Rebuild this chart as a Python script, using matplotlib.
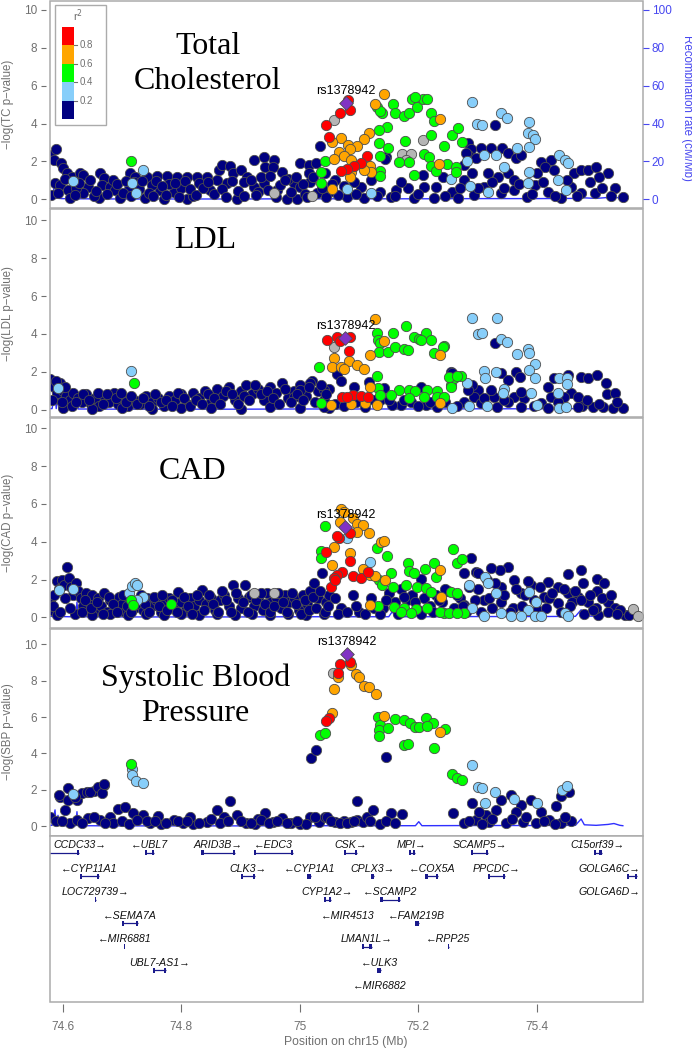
import matplotlib
matplotlib.use("Agg")
import matplotlib.pyplot as plt
from matplotlib.patches import Rectangle

plt.rcParams['font.family'] = ['Liberation Sans', 'DejaVu Sans']

# ---------------------------------------------------------------- data
LEAD_SNP = 'rs1378942'
TRAITS = ['TC', 'LDL', 'CAD', 'SBP']
TITLES = ['Total\nCholesterol', 'LDL', 'CAD', 'Systolic Blood\nPressure']

# lead SNP (position Mb, -log10 p) per trait
lead = [(75.078, 5.06), (75.077, 3.77), (75.077, 4.79), (75.079, 9.47)]

# recombination rate (cM/Mb)
recomb_pos = [74.5785, 74.582, 74.587, 74.589, 74.592, 74.594, 74.598, 74.610, 74.622,
              74.624, 74.626, 74.70, 74.80, 74.90, 75.00, 75.10, 75.150, 75.156, 75.161,
              75.195, 75.2007, 75.206, 75.30, 75.40, 75.465, 75.4746, 75.480, 75.50,
              75.52, 75.53, 75.540, 75.545]
recomb_rate = [0.5, 0.5, 9.0, 0.5, 6.0, 0.5, 0.4, 0.3, 0.3, 8.0, 0.3, 0.2, 0.2, 0.2,
               0.3, 0.3, 0.3, 3.0, 0.3, 0.3, 2.5, 0.3, 0.4, 0.4, 0.5, 4.0, 0.8, 0.5,
               1.0, 1.5, 0.5, 0.3]

# ---- Total cholesterol
tc_navy = [(74.5785, 2.34), (74.589, 2.65), (74.586, 2.07), (74.597, 1.90), (74.601, 1.63),
           (74.607, 1.37), (74.615, 1.19), (74.629, 1.37), (74.635, 1.28), (74.587, 0.84),
           (74.595, 0.75), (74.609, 0.49), (74.612, 0.05), (74.581, 0.23), (74.643, 0.66),
           (74.663, 1.37), (74.669, 1.11), (74.666, 0.75), (74.662, 0.05), (74.680, 0.66),
           (74.688, 0.49), (74.697, 0.05), (74.714, 1.37), (74.711, 0.53), (74.702, 0.32),
           (74.722, 1.19), (74.742, 1.19), (74.759, 1.23), (74.776, 1.23), (74.793, 1.16),
           (74.810, 1.16), (74.827, 1.19), (74.843, 1.19), (74.764, 0.49), (74.787, 0.40),
           (74.770, 0.0), (74.739, 0.05), (74.810, 0.0), (74.849, 0.49), (74.863, 1.55),
           (74.869, 1.81), (74.883, 1.76), (74.860, 1.02), (74.877, 0.84), (74.888, 1.37),
           (74.900, 1.55), (74.911, 1.19), (74.922, 2.07), (74.939, 2.25), (74.942, 1.72),
           (74.956, 2.07), (74.955, 1.72), (74.970, 1.46), (74.894, 0.0), (74.922, 0.66),
           (74.939, 0.84), (74.962, 0.49), (74.967, 0.75), (74.979, 0.0), (74.990, 0.84),
           (75.001, 1.90), (75.015, 1.81), (75.027, 1.90), (75.034, 2.83), (75.018, 0.93),
           (75.001, 0.66), (75.029, 0.32), (74.996, 0.0), (74.635, 0.32), (74.720, 0.90),
           (74.750, 0.75), (74.780, 0.80), (74.800, 0.60), (74.830, 0.85), (74.856, 0.30),
           (74.905, 0.90), (74.930, 0.40), (74.980, 1.10), (75.008, 0.30), (74.745, 0.35),
           (74.820, 0.20), (74.622, 0.60), (74.652, 0.20), (75.283, 2.95), (75.330, 3.92),
           (75.289, 2.64), (75.283, 2.34), (75.297, 2.16), (75.305, 2.72), (75.322, 2.69),
           (75.341, 2.72), (75.351, 2.43), (75.365, 2.16), (75.373, 2.34), (75.407, 1.98),
           (75.424, 2.07), (75.413, 1.72), (75.401, 1.37), (75.429, 1.55), (75.463, 1.37),
           (75.475, 1.55), (75.486, 1.55), (75.500, 1.72), (75.520, 1.37), (75.531, 0.58),
           (75.545, 0.14), (75.498, 0.32), (75.475, 0.32), (75.458, 0.66), (75.441, 0.05),
           (75.418, 0.40), (75.396, 0.75), (75.384, 0.14), (75.362, 0.49), (75.339, 0.32),
           (75.311, 0.66), (75.294, 0.23), (75.277, 1.02), (75.291, 1.37), (75.317, 1.37),
           (75.334, 1.19), (75.351, 1.37), (75.362, 1.02), (75.145, 2.25), (75.207, 1.28),
           (75.210, 0.66), (75.182, 0.58), (75.162, 0.49), (75.136, 0.40), (75.103, 0.66),
           (75.091, 0.93), (75.230, 0.66), (75.256, 0.40), (75.267, 0.05), (75.227, 0.05),
           (75.193, 0.05), (75.153, 0.14), (75.108, 0.05), (75.080, 0.14), (75.144, 2.12),
           (75.015, 1.37), (75.241, 1.19), (75.277, 1.81), (75.281, 2.43), (75.060, 1.00),
           (75.050, 0.40), (75.120, 1.00), (75.170, 0.90), (75.045, 0.10),
           (74.592, 0.35), (74.604, 1.05), (74.620, 0.25), (74.628, 0.85), (74.646, 1.00),
           (74.656, 0.45), (74.674, 0.30), (74.684, 1.00), (74.692, 0.80), (74.706, 0.95),
           (74.716, 0.20), (74.728, 0.55), (74.734, 0.95), (74.752, 0.20), (74.758, 0.95),
           (74.768, 0.70), (74.775, 0.25), (74.790, 0.85), (74.796, 0.15), (74.806, 0.95),
           (74.814, 0.55), (74.825, 0.25), (74.836, 0.60), (74.845, 0.90), (74.868, 0.55),
           (74.875, 0.15), (74.886, 0.95), (74.896, 0.45), (74.906, 0.20), (74.918, 1.00),
           (74.926, 0.25), (74.935, 1.20), (74.946, 0.50), (74.950, 1.25), (74.960, 0.15),
           (74.975, 1.00), (74.985, 0.40), (74.993, 1.20), (75.005, 0.80), (75.012, 0.15),
           (75.022, 1.20), (75.038, 0.60), (75.042, 1.40), (75.055, 0.80), (75.065, 0.25),
           (75.075, 0.70), (75.095, 0.30), (75.130, 0.20), (75.160, 0.20), (75.200, 0.30),
           (75.245, 0.20), (75.270, 0.60), (75.300, 0.60), (75.325, 0.90), (75.345, 0.60),
           (75.370, 0.80), (75.392, 0.30), (75.410, 0.90), (75.430, 0.20), (75.450, 1.00),
           (75.468, 0.20), (75.490, 0.90), (75.510, 0.60), (75.525, 0.20), (75.505, 1.20)]
tc_gray = [(75.207, 3.13), (75.057, 4.18), (75.173, 2.37), (75.187, 2.37), (74.956, 0.32),
           (75.179, 2.07), (75.020, 0.20)]
tc_lblue = [(75.291, 5.12), (75.339, 4.57), (75.349, 4.27), (75.299, 3.97), (75.308, 3.92),
            (75.386, 4.09), (75.385, 3.51), (75.393, 3.39), (75.397, 3.16), (75.387, 2.77),
            (75.366, 2.72), (75.282, 2.02), (75.311, 2.34), (75.331, 2.34), (75.345, 1.72),
            (75.387, 1.46), (75.385, 0.88), (75.438, 2.34), (75.448, 2.07), (75.452, 1.90),
            (75.255, 1.07), (75.287, 0.70), (75.317, 0.40), (75.120, 0.32), (75.435, 1.02),
            (75.449, 0.49), (74.618, 0.97), (74.717, 0.84), (74.724, 0.35), (74.735, 1.55),
            (75.080, 0.53)]
tc_green = [(74.7155, 2.02), (75.043, 2.02), (75.035, 1.46), (75.036, 0.88), (75.130, 4.85),
            (75.138, 4.54), (75.158, 5.03), (75.161, 4.54), (75.176, 4.41), (75.184, 4.54),
            (75.190, 5.28), (75.198, 4.88), (75.208, 5.30), (75.214, 5.27), (75.221, 4.57),
            (75.226, 4.15), (75.194, 5.41), (75.147, 3.83), (75.134, 3.66), (75.221, 3.39),
            (75.256, 3.39), (75.267, 3.74), (75.244, 2.81), (75.273, 3.04), (75.134, 2.95),
            (75.148, 2.69), (75.136, 2.28), (75.167, 1.98), (75.184, 1.98), (75.209, 2.37),
            (75.218, 2.25), (75.221, 1.76), (75.230, 1.51), (75.249, 1.86), (75.263, 1.72),
            (75.263, 1.46), (75.136, 1.51), (75.136, 1.23), (75.193, 1.28), (75.177, 3.08),
            (75.135, 4.66)]
tc_orange = [(75.142, 5.55), (75.127, 5.03), (75.236, 4.26), (75.117, 3.51), (75.108, 3.21),
             (75.070, 3.23), (75.055, 3.04), (75.081, 2.86), (75.097, 2.84), (75.085, 2.64),
             (75.066, 2.51), (75.074, 2.30), (75.057, 2.11), (75.087, 2.07), (75.118, 1.76),
             (75.120, 1.44), (75.087, 1.46), (75.085, 1.16), (75.054, 0.53), (75.235, 1.85),
             (75.108, 1.54)]
tc_red = [(75.082, 5.24), (75.085, 4.71), (75.067, 4.54), (75.045, 3.90), (75.049, 3.30),
          (75.114, 2.28), (75.103, 1.93), (75.091, 1.77), (75.080, 1.60), (75.069, 1.51)]

# ---- LDL
ldl_navy = [(74.579, 1.60), (74.585, 1.20), (74.590, 0.90), (74.595, 1.40), (74.600, 1.00),
            (74.606, 0.70), (74.612, 0.50), (74.618, 0.90), (74.625, 0.60), (74.632, 0.40),
            (74.640, 0.80), (74.648, 0.30), (74.655, 0.60), (74.662, 0.20), (74.670, 0.70),
            (74.678, 0.40), (74.686, 0.90), (74.694, 0.30), (74.702, 0.60), (74.710, 0.20),
            (74.720, 0.50), (74.730, 0.30), (74.740, 0.70), (74.750, 0.40), (74.760, 0.60),
            (74.770, 0.20), (74.780, 0.70), (74.790, 0.50), (74.800, 0.80), (74.810, 0.30),
            (74.820, 0.90), (74.830, 0.60), (74.840, 1.00), (74.850, 0.40), (74.860, 1.10),
            (74.870, 0.70), (74.880, 1.20), (74.890, 0.50), (74.900, 1.00), (74.910, 1.30),
            (74.920, 0.80), (74.930, 1.10), (74.940, 0.50), (74.950, 1.20), (74.960, 0.90),
            (74.970, 1.40), (74.980, 0.60), (74.990, 1.00), (75.000, 1.30), (75.010, 0.70),
            (75.020, 1.50), (75.030, 1.00), (75.040, 0.50), (75.050, 1.10), (74.600, 0.10),
            (74.650, 0.05), (74.700, 0.10), (74.750, 0.05), (74.800, 0.10), (74.850, 0.10),
            (74.900, 0.05), (74.950, 0.15), (75.000, 0.10), (75.050, 0.10), (75.063, 1.88),
            (75.069, 1.51), (75.091, 1.21), (75.117, 1.47), (75.142, 1.12), (75.170, 0.24),
            (75.187, 0.41), (75.213, 0.24), (75.204, 1.17), (75.156, 0.24), (75.018, 1.39),
            (75.001, 1.03), (74.990, 0.68), (75.041, 1.03), (75.041, 0.15), (75.255, 2.00),
            (75.256, 1.74), (75.329, 3.53), (75.256, 1.92), (75.339, 1.92), (75.365, 2.00),
            (75.372, 1.74), (75.351, 1.56), (75.429, 1.65), (75.452, 1.83), (75.475, 1.74),
            (75.486, 1.65), (75.501, 1.83), (75.517, 1.42), (75.519, 0.82), (75.531, 0.86),
            (75.545, 0.06), (75.528, 0.06), (75.511, 0.12), (75.494, 0.15), (75.476, 0.19),
            (75.458, 0.86), (75.469, 0.68), (75.446, 0.68), (75.418, 1.21), (75.424, 0.68),
            (75.407, 0.33), (75.379, 0.59), (75.362, 0.68), (75.373, 0.94), (75.351, 0.41),
            (75.328, 0.68), (75.322, 1.03), (75.300, 1.03), (75.294, 0.68), (75.291, 1.30),
            (75.283, 1.03), (75.277, 0.41), (75.305, 0.33), (75.333, 0.15), (75.373, 0.15),
            (75.418, 0.06), (75.469, 0.15), (75.232, 0.15), (75.110, 0.15), (75.135, 0.50),
            (74.582, 0.50), (74.588, 1.50), (74.598, 0.40), (74.604, 1.20), (74.615, 0.20),
            (74.622, 0.40), (74.635, 0.80), (74.645, 0.50), (74.660, 0.90), (74.668, 0.30),
            (74.675, 0.80), (74.690, 0.60), (74.698, 0.90), (74.706, 0.40), (74.715, 0.70),
            (74.725, 0.30), (74.735, 0.60), (74.745, 0.20), (74.755, 0.80), (74.765, 0.40),
            (74.775, 0.50), (74.785, 0.20), (74.795, 0.90), (74.805, 0.60), (74.815, 0.20),
            (74.825, 0.50), (74.835, 0.30), (74.845, 0.80), (74.855, 0.60), (74.865, 0.30),
            (74.875, 1.00), (74.885, 0.80), (74.895, 0.30), (74.905, 0.70), (74.915, 0.50),
            (74.925, 1.30), (74.935, 0.80), (74.945, 1.00), (74.955, 0.60), (74.965, 0.30),
            (74.975, 1.10), (74.985, 0.40), (74.995, 0.80), (75.005, 0.50), (75.015, 1.20),
            (75.025, 0.40), (75.035, 1.30), (75.045, 0.80), (75.060, 0.30), (75.075, 0.20),
            (75.095, 0.40), (75.125, 0.50), (75.150, 0.50), (75.175, 0.50), (75.200, 0.20),
            (75.220, 0.40), (75.245, 0.40), (75.265, 0.20), (75.310, 0.60), (75.345, 0.50),
            (75.395, 0.20), (75.435, 0.40), (75.485, 0.50), (75.505, 0.30), (75.535, 0.40)]
ldl_gray = [(75.058, 3.29)]
ldl_lblue = [(75.290, 4.83), (75.332, 4.83), (75.300, 4.00), (75.308, 4.03), (75.339, 3.71),
             (75.349, 3.59), (75.366, 2.94), (75.385, 3.20), (75.387, 2.97), (75.397, 2.41),
             (75.387, 2.09), (75.311, 2.05), (75.331, 2.00), (75.313, 1.68), (75.282, 1.42),
             (75.396, 1.65), (75.345, 1.07), (75.342, 0.86), (75.390, 0.89), (75.438, 1.65),
             (75.451, 1.65), (75.451, 1.35), (75.436, 0.89), (75.286, 0.19), (75.316, 0.19),
             (75.256, 0.06), (75.400, 0.24), (75.438, 0.06), (75.449, 0.15), (74.592, 1.13),
             (74.716, 2.04)]
ldl_green = [(75.033, 2.23), (75.130, 4.03), (75.132, 3.68), (75.135, 3.53), (75.134, 3.06),
             (75.148, 3.06), (75.157, 4.03), (75.161, 3.29), (75.176, 3.19), (75.183, 3.15),
             (75.179, 4.42), (75.192, 3.85), (75.201, 3.73), (75.213, 4.03), (75.221, 3.68),
             (75.227, 3.01), (75.244, 3.36), (75.205, 3.68), (75.130, 1.77), (75.132, 1.12),
             (75.136, 0.77), (75.036, 0.36), (75.168, 1.03), (75.184, 1.03), (75.195, 0.99),
             (75.215, 1.03), (75.232, 0.99), (75.232, 0.68), (75.255, 1.30), (75.260, 1.65),
             (75.272, 1.77), (75.153, 0.77), (75.184, 0.59), (75.210, 0.68), (75.242, 3.32),
             (75.252, 1.74), (75.266, 1.77), (75.255, 1.21), (75.244, 0.68), (74.721, 1.40)]
ldl_orange = [(75.127, 4.77), (75.142, 3.64), (75.058, 2.71), (75.083, 2.58), (75.097, 2.35),
              (75.108, 2.13), (75.055, 2.23), (75.069, 2.26), (75.074, 2.13), (75.118, 2.88),
              (75.118, 1.17), (75.053, 0.24), (75.087, 0.29), (75.110, 0.33), (75.131, 0.24),
              (75.236, 2.88), (75.236, 0.33)]
ldl_red = [(75.046, 3.68), (75.063, 3.85), (75.068, 3.64), (75.085, 3.82), (75.083, 3.11),
           (75.072, 0.68), (75.090, 0.77), (75.103, 0.73), (75.115, 0.68), (75.080, 0.65)]

# ---- CAD
cad_navy = [(74.579, 0.90), (74.582, 0.40), (74.586, 1.20), (74.590, 1.90), (74.594, 1.50),
            (74.598, 2.00), (74.602, 1.70), (74.607, 2.68), (74.610, 2.10), (74.614, 1.60),
            (74.618, 1.20), (74.622, 1.83), (74.626, 1.40), (74.630, 1.00), (74.635, 0.60),
            (74.640, 1.30), (74.645, 0.80), (74.650, 1.20), (74.655, 0.40), (74.660, 1.00),
            (74.665, 0.60), (74.670, 1.30), (74.675, 0.30), (74.680, 0.90), (74.688, 0.50),
            (74.695, 1.10), (74.700, 0.70), (74.705, 0.30), (74.712, 1.00), (74.720, 0.50),
            (74.728, 0.90), (74.735, 0.40), (74.742, 1.00), (74.750, 0.60), (74.758, 0.90),
            (74.765, 0.30), (74.772, 0.80), (74.780, 1.00), (74.788, 0.50), (74.795, 1.35),
            (74.800, 0.80), (74.808, 0.40), (74.815, 1.00), (74.822, 0.60), (74.830, 0.90),
            (74.835, 1.44), (74.842, 0.70), (74.850, 1.00), (74.857, 0.40), (74.865, 0.90),
            (74.872, 1.20), (74.880, 0.60), (74.888, 1.71), (74.895, 1.00), (74.900, 0.50),
            (74.908, 1.71), (74.915, 1.10), (74.922, 0.60), (74.930, 1.00), (74.938, 0.40),
            (74.945, 1.30), (74.952, 0.80), (74.960, 1.10), (74.968, 0.50), (74.975, 1.20),
            (74.982, 0.80), (74.990, 1.00), (74.998, 0.40), (75.005, 1.20), (75.012, 0.70),
            (75.018, 1.40), (75.024, 1.83), (75.030, 1.00), (75.038, 2.36), (75.045, 0.80),
            (75.050, 1.20), (74.590, 0.10), (74.620, 0.20), (74.650, 0.10), (74.680, 0.15),
            (74.710, 0.10), (74.740, 0.20), (74.770, 0.10), (74.800, 0.15), (74.830, 0.10),
            (74.860, 0.20), (74.890, 0.10), (74.920, 0.15), (74.950, 0.10), (74.980, 0.20),
            (75.010, 0.10), (75.040, 0.15), (75.060, 1.00), (75.070, 0.50), (75.090, 1.20),
            (75.100, 0.30), (75.120, 1.00), (75.140, 0.50), (75.150, 1.30), (75.160, 0.80),
            (75.170, 1.50), (75.180, 0.90), (75.190, 1.20), (75.200, 0.40), (75.210, 1.00),
            (75.220, 0.60), (75.230, 1.20), (75.240, 0.80), (75.250, 1.40), (75.260, 0.50),
            (75.270, 1.00), (75.280, 0.30), (75.204, 2.01), (75.297, 2.41), (75.289, 3.12),
            (75.452, 2.28), (75.475, 2.50), (75.478, 1.80), (75.501, 2.01), (75.513, 1.80),
            (75.502, 1.41), (75.418, 1.88), (75.435, 1.62), (75.452, 1.27), (75.469, 1.09),
            (75.486, 0.83), (75.520, 0.83), (75.531, 0.48), (75.548, 0.12), (75.503, 0.12),
            (75.390, 1.71), (75.362, 1.97), (75.351, 2.68), (75.337, 2.50), (75.322, 2.59),
            (75.300, 2.33), (75.277, 2.33), (75.373, 1.27), (75.412, 1.09), (75.435, 0.74),
            (75.339, 0.83), (75.311, 0.92), (75.277, 0.65), (75.300, 1.50), (75.320, 1.00),
            (75.340, 1.60), (75.360, 0.50), (75.380, 1.20), (75.400, 0.40), (75.420, 1.00),
            (75.440, 0.30), (75.460, 0.80), (75.480, 0.20), (75.500, 0.50), (75.520, 0.30),
            (75.540, 0.40), (75.555, 0.10),
            (74.584, 0.60), (74.596, 0.30), (74.604, 1.00), (74.612, 0.50), (74.632, 0.30),
            (74.638, 0.90), (74.648, 0.50), (74.658, 0.80), (74.668, 0.20), (74.678, 1.10),
            (74.685, 0.70), (74.692, 0.30), (74.702, 1.20), (74.708, 0.60), (74.716, 0.30),
            (74.724, 0.70), (74.732, 1.20), (74.738, 0.70), (74.746, 0.30), (74.754, 1.10),
            (74.762, 0.60), (74.768, 1.20), (74.776, 0.40), (74.784, 0.90), (74.792, 0.30),
            (74.804, 1.10), (74.812, 0.60), (74.818, 0.20), (74.826, 1.20), (74.838, 0.40),
            (74.846, 1.20), (74.854, 0.70), (74.862, 0.30), (74.868, 1.40), (74.876, 0.90),
            (74.884, 0.30), (74.892, 1.30), (74.904, 0.80), (74.912, 0.30), (74.918, 1.20),
            (74.926, 0.90), (74.934, 1.30), (74.942, 0.70), (74.950, 0.30), (74.956, 0.60),
            (74.964, 1.30), (74.972, 0.80), (74.978, 0.30), (74.986, 1.30), (74.994, 0.70),
            (75.002, 0.20), (75.008, 0.90), (75.016, 0.40), (75.022, 1.10), (75.028, 0.50),
            (75.034, 1.40), (75.042, 0.30), (75.048, 0.60), (75.065, 0.20), (75.080, 0.30),
            (75.095, 0.60), (75.110, 0.20), (75.125, 0.50), (75.135, 0.20), (75.145, 0.90),
            (75.165, 0.20), (75.175, 1.10), (75.195, 0.80), (75.205, 0.20), (75.225, 0.30),
            (75.235, 0.90), (75.245, 1.50), (75.265, 1.20), (75.275, 0.60), (75.285, 1.60),
            (75.295, 0.90), (75.305, 0.30), (75.315, 2.00), (75.325, 0.50), (75.330, 1.80),
            (75.345, 1.20), (75.355, 0.30), (75.365, 1.50), (75.375, 0.60), (75.385, 1.90),
            (75.395, 0.90), (75.405, 1.60), (75.415, 0.50), (75.425, 1.30), (75.445, 1.50),
            (75.455, 0.60), (75.465, 1.40), (75.475, 0.90), (75.490, 1.20), (75.495, 0.40),
            (75.510, 1.00), (75.525, 1.20), (75.535, 0.20)]
cad_gray = [(74.956, 1.27), (74.922, 1.30), (75.562, 0.44), (75.570, 0.07)]
cad_lblue = [(75.118, 2.94), (75.080, 4.21), (75.286, 1.71), (75.313, 2.15), (75.317, 1.80),
             (75.331, 1.27), (75.387, 1.35), (75.399, 0.83), (75.385, 0.39), (75.291, 0.48),
             (75.311, 0.07), (75.339, 0.21), (75.356, 0.07), (75.373, 0.07), (75.396, 0.07),
             (75.407, 0.07), (75.448, 0.21), (75.452, 0.07), (74.593, 1.44), (74.618, 1.48),
             (74.711, 1.30), (74.717, 1.66), (74.722, 1.83), (74.725, 1.71), (74.735, 1.09),
             (74.726, 0.92)]
cad_green = [(75.043, 4.83), (75.035, 3.51), (75.036, 3.12), (75.130, 3.65), (75.147, 3.26),
             (75.258, 3.60), (75.266, 2.89), (75.273, 3.08), (75.153, 2.33), (75.134, 1.97),
             (75.138, 1.71), (75.158, 1.59), (75.182, 2.86), (75.184, 2.45), (75.193, 2.33),
             (75.211, 2.56), (75.227, 2.86), (75.179, 1.71), (75.198, 1.62), (75.213, 1.53),
             (75.255, 1.35), (75.266, 1.27), (75.132, 0.60), (75.159, 0.53), (75.176, 0.48),
             (75.196, 0.42), (75.215, 0.48), (75.244, 0.21), (75.277, 0.21), (75.170, 0.30),
             (75.187, 0.21), (75.230, 2.15), (75.221, 1.35), (75.237, 0.30), (75.251, 0.24),
             (75.266, 0.24), (74.715, 0.92), (74.719, 0.65), (74.783, 0.70)]
cad_orange = [(75.070, 5.73), (75.074, 5.59), (75.068, 5.06), (75.089, 5.24), (75.097, 4.92),
              (75.106, 4.88), (75.096, 4.53), (75.117, 4.48), (75.137, 4.00), (75.142, 4.04),
              (75.058, 3.70), (75.085, 3.39), (75.055, 2.77), (75.107, 2.56), (75.118, 2.24),
              (75.127, 2.19), (75.144, 1.97), (75.118, 0.65), (75.236, 2.50), (75.239, 1.06)]
cad_red = [(75.066, 4.18), (75.063, 4.30), (75.085, 4.44), (75.045, 3.47), (75.085, 2.99),
           (75.072, 2.41), (75.063, 2.24), (75.058, 2.06), (75.089, 2.19), (75.104, 2.06),
           (75.115, 2.41), (75.052, 1.62), (75.059, 1.97)]

# ---- SBP
sbp_navy = [(74.596, 1.63), (74.609, 2.12), (74.624, 1.45), (74.632, 1.81), (74.641, 1.90),
            (74.652, 1.96), (74.663, 2.09), (74.669, 2.27), (74.593, 1.72), (74.609, 1.45),
            (74.621, 1.63), (74.646, 1.90), (74.660, 2.18), (74.666, 1.81), (74.670, 2.32),
            (74.604, 0.90), (74.579, 0.53), (74.588, 0.29), (74.612, 0.18), (74.624, 0.35),
            (74.643, 0.45), (74.663, 0.35), (74.680, 0.53), (74.694, 0.93), (74.705, 1.04),
            (74.718, 0.71), (74.736, 0.62), (74.748, 0.18), (74.765, 0.13), (74.787, 0.35),
            (74.803, 0.18), (74.820, 0.13), (74.843, 0.25), (74.860, 0.90), (74.883, 1.39),
            (74.872, 0.53), (74.894, 0.62), (74.910, 0.18), (74.925, 0.13), (74.942, 0.71),
            (74.954, 0.24), (74.970, 0.44), (75.001, 0.13), (75.018, 0.53), (75.032, 0.24),
            (75.043, 0.53), (75.046, 0.49), (75.060, 0.24), (75.074, 0.31), (75.086, 0.24),
            (75.097, 0.35), (75.106, 0.24), (75.114, 0.49), (75.124, 0.90), (75.135, 0.11),
            (75.153, 0.75), (75.173, 0.66), (75.097, 1.41), (75.019, 3.74), (75.028, 4.19),
            (75.145, 3.82), (75.259, 0.75), (75.291, 1.26), (75.277, 0.16), (75.297, 0.35),
            (75.314, 0.62), (75.331, 0.90), (75.339, 1.45), (75.356, 1.72), (75.373, 1.17),
            (75.390, 1.45), (75.407, 0.79), (75.421, 0.35), (75.432, 1.12), (75.441, 1.67),
            (75.454, 1.88), (75.319, 0.24), (75.348, 0.18), (75.376, 0.24), (75.398, 0.18),
            (75.441, 0.18), (75.458, 0.29), (75.302, 0.79), (75.365, 0.79), (74.685, 0.20),
            (74.760, 0.55), (74.815, 0.50), (74.930, 0.40), (74.985, 0.20), (75.010, 0.10),
            (74.598, 0.30), (74.632, 0.20), (74.652, 0.50), (74.672, 0.20), (74.700, 0.30),
            (74.712, 0.15), (74.725, 0.35), (74.742, 0.30), (74.756, 0.30), (74.775, 0.20),
            (74.795, 0.30), (74.810, 0.30), (74.830, 0.20), (74.850, 0.40), (74.866, 0.20),
            (74.878, 0.30), (74.900, 0.30), (74.918, 0.20), (74.935, 0.35), (74.948, 0.20),
            (74.962, 0.30), (74.978, 0.20), (74.995, 0.30), (75.025, 0.50), (75.052, 0.30),
            (75.068, 0.20), (75.080, 0.20), (75.092, 0.30), (75.119, 0.30), (75.145, 0.30),
            (75.160, 0.20), (75.285, 0.30), (75.308, 0.10), (75.325, 0.40), (75.358, 0.40),
            (75.382, 0.50), (75.412, 0.30), (75.430, 0.10), (75.448, 0.50)]
sbp_gray = [(75.056, 8.41)]
sbp_lblue = [(75.291, 3.37), (75.300, 2.18), (75.308, 2.09), (75.313, 1.26), (75.330, 1.90),
             (75.362, 1.50), (75.400, 1.30), (75.443, 2.00), (75.450, 2.20), (74.618, 1.77),
             (74.717, 3.15), (74.717, 2.82), (74.724, 2.49), (74.735, 2.36)]
sbp_green = [(75.034, 5.02), (75.042, 5.11), (75.132, 5.99), (75.135, 5.57), (75.134, 5.29),
             (75.134, 4.96), (75.149, 5.38), (75.160, 5.88), (75.175, 5.84), (75.186, 5.66),
             (75.194, 5.47), (75.201, 5.44), (75.213, 5.93), (75.224, 5.69), (75.214, 5.51),
             (75.245, 5.33), (75.176, 4.47), (75.183, 4.52), (75.227, 4.29), (75.256, 2.87),
             (75.266, 2.64), (75.273, 2.54), (74.715, 3.41)]
sbp_orange = [(75.087, 8.86), (75.094, 8.35), (75.099, 8.22), (75.065, 8.22), (75.057, 7.53),
              (75.108, 7.71), (75.117, 7.64), (75.128, 7.27), (75.055, 6.21), (75.142, 6.06),
              (75.236, 5.16)]
sbp_red = [(75.068, 8.92), (75.085, 9.04), (75.064, 8.44), (75.049, 5.93), (75.045, 5.80)]

# ---- genes: name, start, end, strand, row
gene_name = ['CCDC33', 'UBL7', 'ARID3B', 'EDC3', 'CSK', 'MPI', 'SCAMP5', 'C15orf39',
             'CYP11A1', 'CLK3', 'CYP1A1', 'CPLX3', 'COX5A', 'PPCDC', 'GOLGA6C',
             'LOC729739', 'CYP1A2', 'SCAMP2', 'GOLGA6D',
             'SEMA7A', 'MIR4513', 'FAM219B',
             'MIR6881', 'LMAN1L', 'RPP25',
             'UBL7-AS1', 'ULK3', 'MIR6882']
gene_start = [74.560, 74.738, 74.834, 74.923, 75.074, 75.184, 75.289, 75.497,
              74.629, 74.901, 75.0125, 75.1195, 75.212, 75.317, 75.552,
              74.6543, 75.040, 75.136, 75.5785,
              74.700, 75.0808, 75.194,
              74.7034, 75.105, 75.2495,
              74.7527, 75.130, 75.1345]
gene_end = [74.628, 74.754, 74.891, 74.989, 75.097, 75.194, 75.317, 75.509,
            74.661, 74.925, 75.019, 75.1245, 75.233, 75.346, 75.569,
            74.6553, 75.052, 75.169, 75.5900,
            74.727, 75.0815, 75.201,
            74.7040, 75.121, 75.2510,
            74.7747, 75.1376, 75.1350]
gene_strand = ['+', '-', '+', '-', '+', '+', '+', '+',
               '-', '+', '-', '+', '-', '+', '+',
               '+', '+', '-', '+',
               '-', '-', '-',
               '-', '+', '-',
               '+', '-', '-']
gene_row = [0, 0, 0, 0, 0, 0, 0, 0,
            1, 1, 1, 1, 1, 1, 1,
            2, 2, 2, 2,
            3, 3, 3,
            4, 4, 4,
            5, 5, 6]

x_ticks = [74.6, 74.8, 75.0, 75.2, 75.4]
x_tick_labels = ['74.6', '74.8', '75', '75.2', '75.4']

# ---------------------------------------------------------------- style
W, H = 692, 1050
XLIM = (74.5785, 75.579)
FRAME = '#ABABAB'
AXTXT = '#707070'
RBLUE = '#4747F0'
GENE = '#1A1A8C'
EDGE = '#4D4D4D'
C_NAVY, C_LBLUE, C_GREEN = '#000080', '#87CEFA', '#00FF00'
C_ORANGE, C_RED, C_GRAY, C_PURPLE = '#FFA500', '#FF0000', '#B5B5B5', '#8133C4'

panel_px = [(0.5, 207.7), (209.5, 417.5), (418.5, 627.7), (628.5, 835.7)]
panel_ylim = [(-0.44, 10.49), (-0.42, 10.58), (-0.55, 10.52), (-0.52, 10.87)]
title_pos = [(0.266, 0.692), (0.261, 0.853), (0.240, 0.745), (0.245, 0.674)]

snp_sets = [
    [(tc_navy, C_NAVY), (tc_gray, C_GRAY), (tc_lblue, C_LBLUE), (tc_green, C_GREEN),
     (tc_orange, C_ORANGE), (tc_red, C_RED)],
    [(ldl_navy, C_NAVY), (ldl_gray, C_GRAY), (ldl_lblue, C_LBLUE), (ldl_green, C_GREEN),
     (ldl_orange, C_ORANGE), (ldl_red, C_RED)],
    [(cad_navy, C_NAVY), (cad_gray, C_GRAY), (cad_lblue, C_LBLUE), (cad_green, C_GREEN),
     (cad_orange, C_ORANGE), (cad_red, C_RED)],
    [(sbp_navy, C_NAVY), (sbp_gray, C_GRAY), (sbp_lblue, C_LBLUE), (sbp_green, C_GREEN),
     (sbp_orange, C_ORANGE), (sbp_red, C_RED)],
]


def fx(px):
    return px / W


def fy(py):
    return 1 - py / H


def add_frame(ax):
    for s in ax.spines.values():
        s.set_visible(False)
    ax.add_patch(Rectangle((0, 0), 1, 1, transform=ax.transAxes, fill=False,
                           ec=FRAME, lw=1.1, clip_on=False, zorder=10))


fig = plt.figure(figsize=(W / 100, H / 100), dpi=100)

for i, (top, bottom) in enumerate(panel_px):
    ax = fig.add_axes([fx(50), fy(bottom), (643 - 50) / W, (bottom - top) / H])
    ax.set_xlim(*XLIM)
    ax.set_ylim(*panel_ylim[i])
    add_frame(ax)
    ax.set_xticks([])
    ax.set_yticks([0, 2, 4, 6, 8, 10])
    ax.spines['left'].set_position(('outward', 3))
    ax.tick_params(axis='y', direction='out', length=3.8, width=0.8, color=AXTXT,
                   labelcolor=AXTXT, labelsize=8.5, pad=2.5)
    ax.set_ylabel('\u2212log(%s p\u2212value)' % TRAITS[i], color=AXTXT, fontsize=8.3)
    # anchor is the right edge of the rotated label
    ax.yaxis.set_label_coords(-0.061, 0.5)

    # recombination rate scaled onto the -log10 p axis (100 cM/Mb <-> 10)
    ax.plot(recomb_pos, [r / 10 for r in recomb_rate], color='#3030FF', lw=1.0, zorder=1)

    for pts, col in snp_sets[i]:
        ax.scatter([p[0] for p in pts], [p[1] for p in pts], s=55, c=col,
                   edgecolors=EDGE, linewidths=0.6, zorder=3)
    lx, ly = lead[i]
    ax.scatter([lx], [ly], s=48, marker='D', c=C_PURPLE, edgecolors=EDGE,
               linewidths=0.6, zorder=4)
    ax.annotate(LEAD_SNP, (lx, ly), xytext=(0, 12), textcoords='offset pixels',
                ha='center', va='center', fontsize=9, color='black', zorder=6)

    ax.text(title_pos[i][0], title_pos[i][1], TITLES[i], transform=ax.transAxes,
            ha='center', va='center', fontsize=23, linespacing=1.28,
            family=['Liberation Serif', 'DejaVu Serif'], color='black')

    if i == 0:
        rax = ax.twinx()
        rax.set_ylim(panel_ylim[i][0] * 10, panel_ylim[i][1] * 10)
        for s in rax.spines.values():
            s.set_visible(False)
        rax.set_yticks([0, 20, 40, 60, 80, 100])
        rax.tick_params(axis='y', direction='out', length=4.3, width=0.8, color=RBLUE,
                        labelcolor=RBLUE, labelsize=8.5, pad=2)
        rax.set_ylabel('Recombination rate (cM/Mb)', color=RBLUE, fontsize=8.3,
                       rotation=-90, va='bottom')
        # anchor is the left edge of the rotated label
        rax.yaxis.set_label_coords(1.064, 0.48)

# ---- legend (r^2 colour key) in the first panel
fig.add_artist(Rectangle((fx(55), fy(125)), 50.7 / W, 119.7 / H, transform=fig.transFigure,
                         fill=False, ec=FRAME, lw=1.0, zorder=20))
key_cols = [C_RED, C_ORANGE, C_GREEN, C_LBLUE, C_NAVY]
seg = 18.5
for k, col in enumerate(key_cols):
    y0 = 26.7 + k * seg
    fig.add_artist(Rectangle((fx(62.3), fy(y0 + seg)), 11.7 / W, seg / H,
                             transform=fig.transFigure, fc=col, ec='none', zorder=21))
for k, lab in enumerate(['0.8', '0.6', '0.4', '0.2']):
    yb = 26.7 + (k + 1) * seg
    fig.add_artist(plt.Line2D([fx(74), fx(77)], [fy(yb), fy(yb)], transform=fig.transFigure,
                              color=AXTXT, lw=0.8, zorder=21))
    fig.text(fx(79.5), fy(yb), lab, ha='left', va='center', fontsize=7, color=AXTXT)
fig.text(fx(78), fy(16), 'r$^2$', ha='center', va='center', fontsize=8, color=AXTXT)

# ---- gene track
gax = fig.add_axes([fx(50), fy(1001.7), (643 - 50) / W, (1001.7 - 835.7) / H])
gax.set_xlim(*XLIM)
gax.set_ylim(6.668, -0.396)
add_frame(gax)
gax.set_yticks([])
gax.set_xticks(x_ticks)
gax.set_xticklabels(x_tick_labels)
gax.spines['bottom'].set_position(('outward', 2))
gax.tick_params(axis='x', direction='out', length=6, width=0.8, color=AXTXT,
                labelcolor=AXTXT, labelsize=8.6, pad=6)

gene_texts = []
for name, g0, g1, strand, row in zip(gene_name, gene_start, gene_end, gene_strand, gene_row):
    yb = row + 0.33
    gax.plot([g0, g1], [yb, yb], color=GENE, lw=0.9, solid_capstyle='butt', zorder=2)
    ex = 0.0035
    if g1 - g0 <= 2 * ex:
        gax.add_patch(Rectangle((g0, yb - 0.11), max(g1 - g0, 0.0012), 0.22, fc=GENE,
                                ec='none', zorder=3))
    else:
        for e0 in (g0, g1 - ex):
            gax.add_patch(Rectangle((e0, yb - 0.11), ex, 0.22, fc=GENE, ec='none', zorder=3))
    label = name + '\u2192' if strand == '+' else '\u2190' + name
    t = gax.text((g0 + g1) / 2, row, label, ha='center', va='center', fontsize=7.7,
                 style='italic', color='#111111', zorder=4)
    gene_texts.append(t)

fig.text(fx(346), fy(1042), 'Position on chr15 (Mb)', ha='center', va='center',
         fontsize=8.8, color=AXTXT)

# keep gene labels inside the track
fig.canvas.draw()
renderer = fig.canvas.get_renderer()
abox = gax.get_window_extent(renderer)
for t in gene_texts:
    bb = t.get_window_extent(renderer)
    dx = 0
    if bb.x0 < abox.x0 + 3:
        dx = abox.x0 + 3 - bb.x0
    elif bb.x1 > abox.x1 - 3:
        dx = abox.x1 - 3 - bb.x1
    if dx:
        x, y = t.get_position()
        px, py = gax.transData.transform((x, y))
        t.set_position(gax.transData.inverted().transform((px + dx, py)))

fig.savefig('out.png', dpi=100, facecolor='white')
